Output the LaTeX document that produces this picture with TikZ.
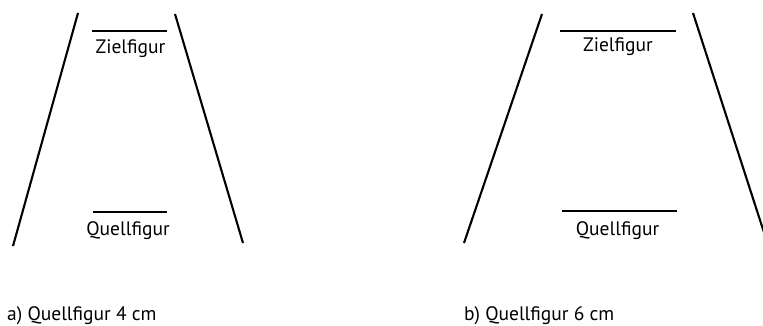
\documentclass[tikz,border=0pt]{standalone}
\usepackage{fontspec}
\setmainfont{PT Sans}
\tikzset{
  ray/.style={line width=2.1pt},
  figbar/.style={line width=2.1pt},
  lbl/.style={font=\fontsize{19.5}{22}\selectfont,inner sep=0pt,anchor=base},
  caption/.style={lbl,anchor=base west}
}
\begin{document}
\begin{tikzpicture}[x=1pt,y=-1pt]
\useasboundingbox (0,0) rectangle (763,325);
\begin{scope}
\clip (0,0) rectangle (763,325);
% a) source 4 cm
\coordinate (a lt) at (78,13);
\coordinate (a lb) at (13,246);
\coordinate (a rt) at (175,14);
\coordinate (a rb) at (243,243);
\draw[ray] (a lt)--(a lb);
\draw[ray] (a rt)--(a rb);
\coordinate (a z1) at (92,31);
\coordinate (a z2) at (167,31);
\coordinate (a q1) at (93,212);
\coordinate (a q2) at (167,212);
\draw[figbar] (a z1)--(a z2);
\draw[figbar] (a q1)--(a q2);
\node[lbl] (a ziel) at (130.5,53) {Zielfigur};
\node[lbl] (a quell) at (128,235) {Quellfigur};
% b) source 6 cm
\coordinate (b lt) at (542,14);
\coordinate (b lb) at (464,243);
\coordinate (b rt) at (693,13);
\coordinate (b rb) at (770,251);
\draw[ray] (b lt)--(b lb);
\draw[ray] (b rt)--(b rb);
\coordinate (b z1) at (560,31);
\coordinate (b z2) at (676,31);
\coordinate (b q1) at (562,211);
\coordinate (b q2) at (677,211);
\draw[figbar] (b z1)--(b z2);
\draw[figbar] (b q1)--(b q2);
\node[lbl] (b ziel) at (618,51) {Zielfigur};
\node[lbl] (b quell) at (617.5,235) {Quellfigur};
\end{scope}
\node[caption] (cap a) at (7,320.5) {a) Quellfigur 4 cm};
\node[caption] (cap b) at (464,320.5) {b) Quellfigur 6 cm};
\end{tikzpicture}
\end{document}
